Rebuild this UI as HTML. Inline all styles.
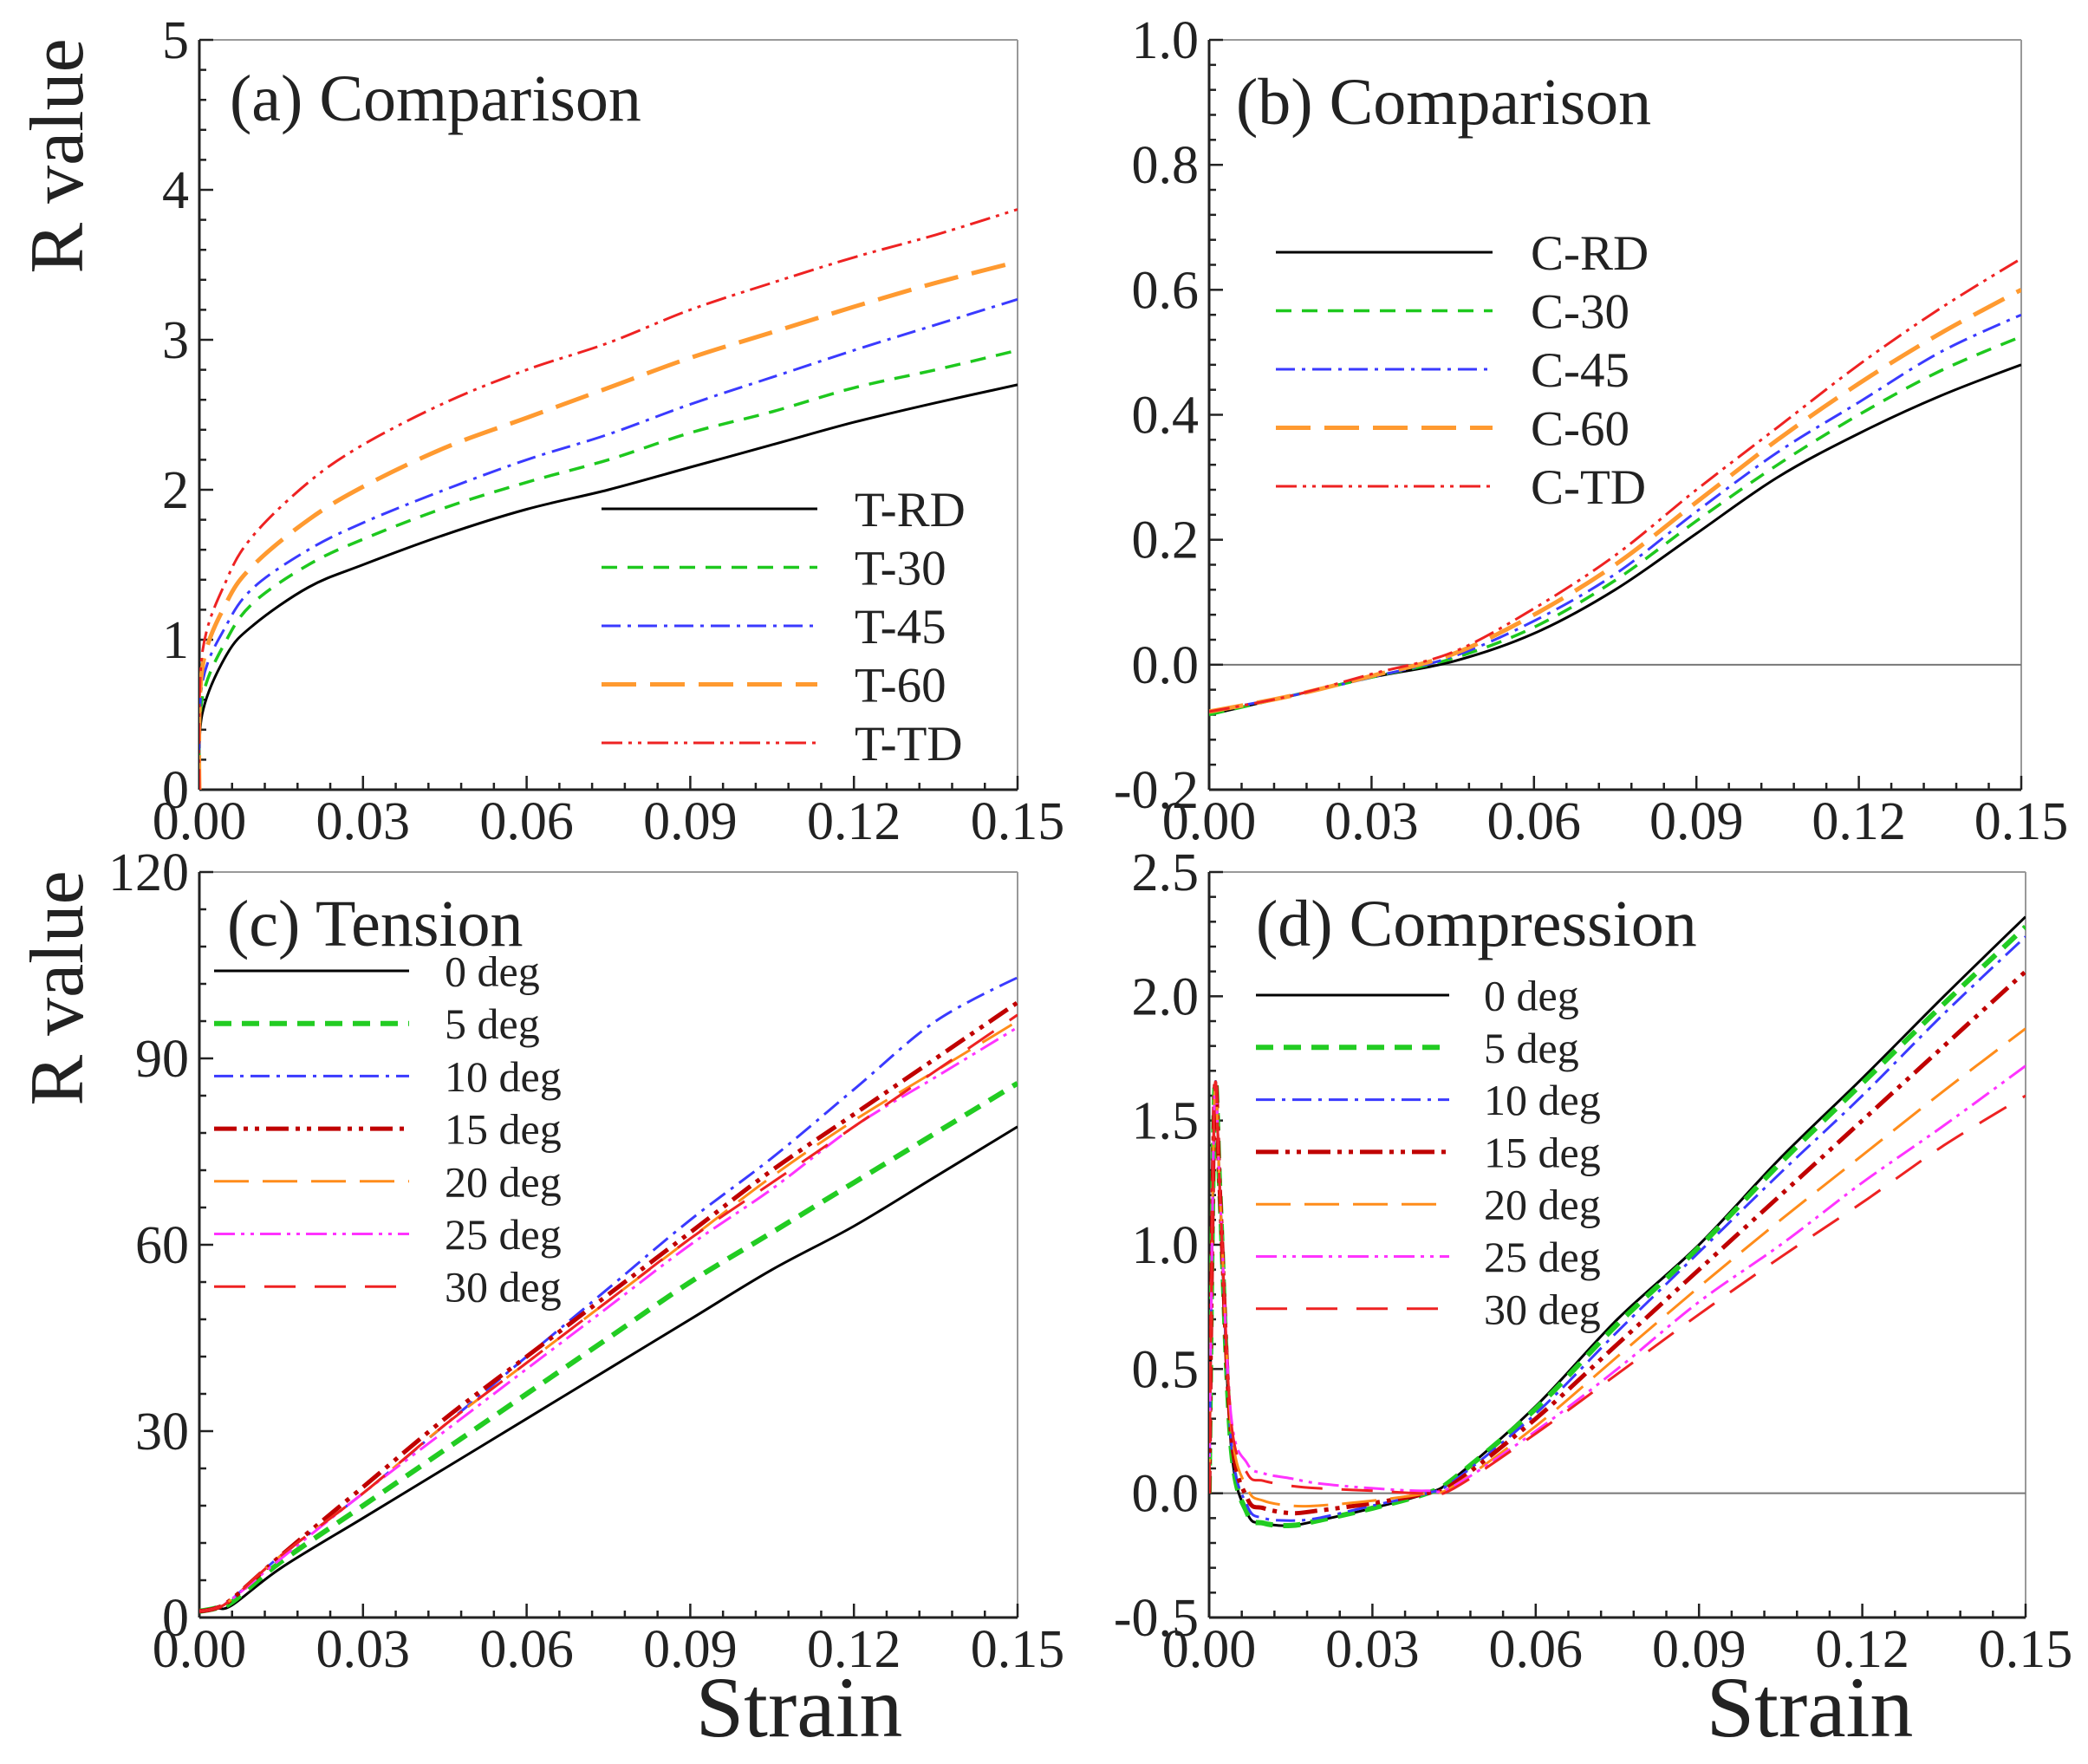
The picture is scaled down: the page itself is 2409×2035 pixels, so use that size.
<!DOCTYPE html>
<html><head><meta charset="utf-8"><style>
body{margin:0;background:#fff}
svg text{font-family:"Liberation Serif",serif;fill:#222}
</style></head><body>
<svg id="fig" width="2409" height="2030" viewBox="0 0 2409 2030" xmlns="http://www.w3.org/2000/svg"></svg>
<script>
// ---- data ----
const aX=[0,0.0005,0.005,0.01,0.02,0.03,0.045,0.06,0.075,0.09,0.105,0.12,0.135,0.15];
const aRD=[0,0.5,0.9,1.1,1.35,1.5,1.7,1.87,2.0,2.15,2.3,2.45,2.58,2.7];
const a30=[0,0.6,1.0,1.25,1.5,1.67,1.88,2.05,2.2,2.38,2.52,2.68,2.8,2.93];
const a45=[0,0.7,1.1,1.35,1.6,1.78,2.0,2.2,2.37,2.57,2.75,2.93,3.1,3.27];
const a60=[0,0.8,1.25,1.5,1.8,2.02,2.28,2.48,2.68,2.88,3.05,3.22,3.38,3.52];
const aTD=[0,0.9,1.4,1.7,2.05,2.3,2.58,2.8,2.98,3.2,3.38,3.55,3.7,3.87];
const aLabels=["T-RD","T-30","T-45","T-60","T-TD"];

const bX=[0,0.015,0.03,0.045,0.06,0.075,0.09,0.105,0.12,0.135,0.15];
const bRD=[-0.08,-0.05,-0.02,0.005,0.05,0.12,0.21,0.3,0.37,0.43,0.48];
const b30=[-0.08,-0.05,-0.02,0.01,0.06,0.135,0.23,0.32,0.4,0.47,0.525];
const b45=[-0.075,-0.05,-0.02,0.013,0.07,0.145,0.245,0.34,0.42,0.5,0.56];
const b60=[-0.075,-0.05,-0.018,0.017,0.08,0.16,0.26,0.36,0.45,0.53,0.6];
const bTD=[-0.075,-0.05,-0.015,0.02,0.09,0.175,0.28,0.38,0.48,0.57,0.65];
const bLabels=["C-RD","C-30","C-45","C-60","C-TD"];

const cX=[0,0.003,0.006,0.015,0.03,0.045,0.06,0.075,0.09,0.105,0.12,0.135,0.15];
const c0=[1,1.5,2,8,16,24,32,40,48,56,63,71,79];
const c5=[1,1.5,2.5,9,18,27,36,45,54,62,70,78,86];
const c10=[1,1.5,3,10,20,31,42,53,64,74,85,96,103];
const c15=[1,1.5,3,10,21,32,42,52,62,72,81,90,99];
const c20=[1,1.5,3,10,20,31,41,51,61,71,80,88,96];
const c25=[1,1.5,3,9.5,20,30,40,50,60,69,79,87,95];
const c30=[1,1.5,3,10,20,31,41,51,61,70,79,88,97];
const degLabels=["0 deg","5 deg","10 deg","15 deg","20 deg","25 deg","30 deg"];

const dX=[0,0.001,0.002,0.004,0.007,0.01,0.015,0.02,0.03,0.04,0.045,0.06,0.075,0.09,0.105,0.12,0.135,0.15];
const d0=[0,1.6,1.2,0.2,-0.08,-0.12,-0.13,-0.11,-0.06,0.0,0.06,0.35,0.7,1.0,1.35,1.67,2.0,2.32];
const d5=[0,1.6,1.2,0.2,-0.08,-0.12,-0.13,-0.11,-0.06,0.0,0.06,0.34,0.68,0.99,1.33,1.65,1.97,2.28];
const d10=[0,1.6,1.2,0.22,-0.05,-0.1,-0.11,-0.1,-0.05,0.0,0.05,0.32,0.65,0.97,1.29,1.6,1.93,2.24];
const d15=[0,1.6,1.2,0.25,-0.02,-0.06,-0.08,-0.07,-0.04,0.0,0.04,0.3,0.6,0.9,1.2,1.5,1.8,2.1];
const d20=[0,1.6,1.2,0.28,0.02,-0.03,-0.05,-0.05,-0.03,0.0,0.03,0.27,0.55,0.83,1.1,1.36,1.62,1.87];
const d25=[0,1.6,1.2,0.32,0.12,0.08,0.06,0.04,0.02,0.01,0.03,0.25,0.5,0.77,1.0,1.25,1.48,1.72];
const d30=[0,1.6,1.2,0.3,0.08,0.05,0.03,0.02,0.01,0.0,0.02,0.24,0.48,0.72,0.95,1.17,1.4,1.6];

const xTicks=["0.00","0.03","0.06","0.09","0.12","0.15"];
const aTicks=["0","1","2","3","4","5"];
const bTicks=["-0.2","0.0","0.2","0.4","0.6","0.8","1.0"];
const cTicks=["0","30","60","90","120"];
const dTicks=["-0.5","0.0","0.5","1.0","1.5","2.0","2.5"];

// ---- drawing ----
const NS="http://www.w3.org/2000/svg";
const svg=document.getElementById('fig');
function mk(tag,attrs,parent){const e=document.createElementNS(NS,tag);for(const k in attrs)e.setAttribute(k,attrs[k]);(parent||svg).appendChild(e);return e;}

const styles={
 k:{stroke:"#000",w:3,dash:""},
 g:{stroke:"#1ec81e",w:3.5,dash:"18 12"},
 gT:{stroke:"#22cc22",w:6,dash:"20 12"},
 bl:{stroke:"#3a3aff",w:3,dash:"22 8 4 8"},
 o:{stroke:"#ff9a30",w:5,dash:"40 16"},
 oT:{stroke:"#ff8c1a",w:3,dash:"40 16"},
 r:{stroke:"#ee2222",w:3,dash:"24 7 4 7 4 7"},
 dr:{stroke:"#c00000",w:5,dash:"26 8 5 8 5 8"},
 m:{stroke:"#ff33ff",w:3,dash:"24 7 4 7 4 7"},
 rL:{stroke:"#ee2222",w:3,dash:"36 22"}
};

function smoothPath(pts){
 let d='M'+pts[0][0].toFixed(1)+' '+pts[0][1].toFixed(1);
 for(let i=0;i<pts.length-1;i++){
  const p0=pts[Math.max(0,i-1)],p1=pts[i],p2=pts[i+1],p3=pts[Math.min(pts.length-1,i+2)];
  const t=(i===0)?0:1/6, t2=(i+2>pts.length-1)?0:1/6;
  const c1x=p1[0]+(p2[0]-p0[0])*t,c1y=p1[1]+(p2[1]-p0[1])*t;
  const c2x=p2[0]-(p3[0]-p1[0])*t2,c2y=p2[1]-(p3[1]-p1[1])*t2;
  d+=` C${c1x.toFixed(1)} ${c1y.toFixed(1)} ${c2x.toFixed(1)} ${c2y.toFixed(1)} ${p2[0].toFixed(1)} ${p2[1].toFixed(1)}`;
 }
 return d;
}

function panel(p){
 const g=mk('g',{});
 
 
 const X=v=>p.L+(v-0)/(0.15)*(p.R-p.L);
 const Y=v=>p.B-(v-p.ymin)/(p.ymax-p.ymin)*(p.B-p.T);
 const cid='clip-'+p.name;
 const cp=mk('clipPath',{id:cid},g);mk('rect',{x:p.L,y:p.T,width:p.R-p.L,height:p.B-p.T},cp);
 mk('line',{x1:p.L,y1:p.T,x2:p.R,y2:p.T,stroke:"#999","stroke-width":2},g);
 mk('line',{x1:p.R,y1:p.T,x2:p.R,y2:p.B,stroke:"#999","stroke-width":2},g);
 if(p.zero){const z=mk('line',{x1:p.L,y1:Y(0),x2:p.R,y2:Y(0),stroke:"#777","stroke-width":2},g);}
 for(let i=0;i<=25;i++){const v=i*0.006,x=X(v),maj=i%5===0;
  mk('line',{x1:x,y1:p.B,x2:x,y2:p.B-(maj?16:8),stroke:"#222","stroke-width":2.5},g);
 }
 xTicks.forEach((t,i)=>{const v=i*0.03;const e=mk('text',{x:X(v),y:p.B+57,"text-anchor":"middle","font-size":62},g);e.textContent=t;
  });
 const n=p.yt.length-1,step=(p.ymax-p.ymin)/n;
 for(let i=0;i<=n*5;i++){const v=p.ymin+i*step/5,y=Y(v),maj=i%5===0;
  mk('line',{x1:p.L,y1:y,x2:p.L+(maj?16:8),y2:y,stroke:"#222","stroke-width":2.5},g);}
 p.yt.forEach((t,i)=>{const e=mk('text',{x:p.L-12,y:Y(p.ymin+i*step)+21,"text-anchor":"end","font-size":62},g);e.textContent=t;
  });
 mk('line',{x1:p.L,y1:p.T,x2:p.L,y2:p.B,stroke:"#222","stroke-width":3},g);
 mk('line',{x1:p.L,y1:p.B,x2:p.R,y2:p.B,stroke:"#222","stroke-width":3},g);
 const sg=mk('g',{"clip-path":`url(#${cid})`},g);
 p.series.forEach((s,i)=>{const st=styles[p.sty[i]];
  const pts=s.map((v,j)=>[X(p.x[j]),Y(v)]);
  const path=mk('path',{d:smoothPath(pts),fill:"none",stroke:st.stroke,"stroke-width":st.w,"stroke-dasharray":st.dash,"stroke-linejoin":"round"},sg);
  
  
  const ly=p.leg.y0+i*p.leg.dy;
  const ll=mk('line',{x1:p.leg.x1,y1:ly,x2:p.leg.x2,y2:ly,stroke:st.stroke,"stroke-width":st.w,"stroke-dasharray":st.dash},g);
  
  const lt=mk('text',{x:p.leg.tx,y:ly+p.leg.fs*0.35,"font-size":p.leg.fs},g);lt.textContent=p.labels[i];
  
 });
 const tt=mk('text',{x:p.tx,y:p.ty,"font-size":76},g);tt.textContent=p.title;
 
}

panel({name:'panel-a',L:230,R:1174,T:46,B:911,ymin:0,ymax:5,yt:aTicks,x:aX,series:[aRD,a30,a45,a60,aTD],labels:aLabels,
 sty:['k','g','bl','o','r'],leg:{x1:694,x2:943,tx:986,y0:587,dy:67.5,fs:57},title:'(a) Comparison',tx:265,ty:139});
panel({name:'panel-b',L:1395,R:2332,T:46,B:911,zero:true,ymin:-0.2,ymax:1.0,yt:bTicks,x:bX,series:[bRD,b30,b45,b60,bTD],labels:bLabels,
 sty:['k','g','bl','o','r'],leg:{x1:1472,x2:1722,tx:1766,y0:291,dy:67.5,fs:57},title:'(b) Comparison',tx:1426,ty:143});
panel({name:'panel-c',L:230,R:1174,T:1006,B:1866,ymin:0,ymax:120,yt:cTicks,x:cX,series:[c0,c5,c10,c15,c20,c25,c30],labels:degLabels,
 sty:['k','gT','bl','dr','oT','m','rL'],leg:{x1:247,x2:472,tx:513,y0:1120,dy:60.7,fs:50},title:'(c) Tension',tx:262,ty:1091});
panel({name:'panel-d',L:1395,R:2337,T:1006,B:1866,zero:true,ymin:-0.5,ymax:2.5,yt:dTicks,x:dX,series:[d0,d5,d10,d15,d20,d25,d30],labels:degLabels,
 sty:['k','gT','bl','dr','oT','m','rL'],leg:{x1:1449,x2:1672,tx:1712,y0:1148,dy:60.3,fs:50},title:'(d) Compression',tx:1449,ty:1091});

function label(txt,x,y,fs,rot,name){const e=mk('text',{x:x,y:y,"font-size":fs,"text-anchor":"middle",transform:rot?`rotate(-90 ${x} ${y})`:''});e.textContent=txt;
 }
label('R value',95,180,88,true,'y-axis-title-top');
label('R value',95,1140,88,true,'y-axis-title-bottom');
label('Strain',922,2003,100,false,'x-axis-title-left');
label('Strain',2088,2003,100,false,'x-axis-title-right');
</script>
</body></html>
